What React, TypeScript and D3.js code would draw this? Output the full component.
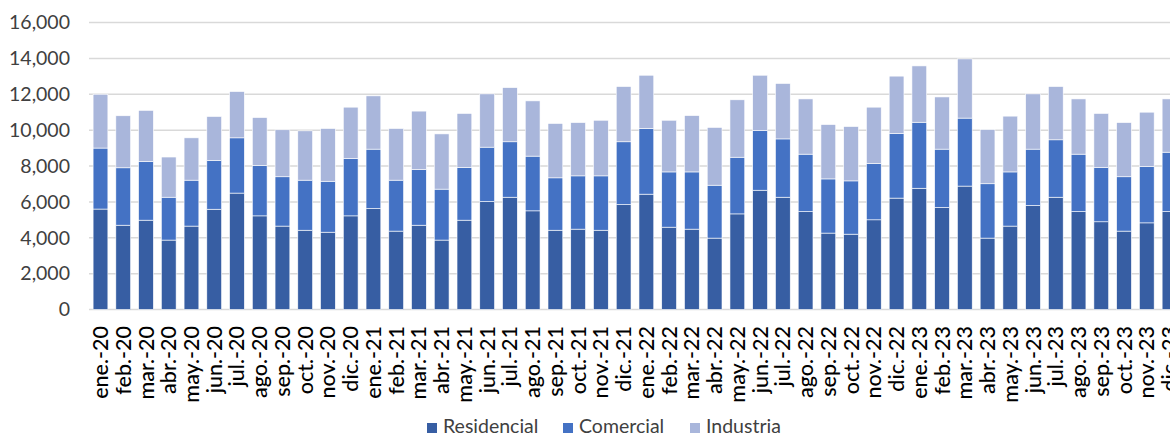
import React, { useEffect, useRef } from 'react';
import * as d3 from 'd3';

const months = [
  'ene.-20', 'feb.-20', 'mar.-20', 'abr.-20', 'may.-20', 'jun.-20', 'jul.-20', 'ago.-20', 'sep.-20', 'oct.-20', 'nov.-20', 'dic.-20',
  'ene.-21', 'feb.-21', 'mar.-21', 'abr.-21', 'may.-21', 'jun.-21', 'jul.-21', 'ago.-21', 'sep.-21', 'oct.-21', 'nov.-21', 'dic.-21',
  'ene.-22', 'feb.-22', 'mar.-22', 'abr.-22', 'may.-22', 'jun.-22', 'jul.-22', 'ago.-22', 'sep.-22', 'oct.-22', 'nov.-22', 'dic.-22',
  'ene.-23', 'feb.-23', 'mar.-23', 'abr.-23', 'may.-23', 'jun.-23', 'jul.-23', 'ago.-23', 'sep.-23', 'oct.-23', 'nov.-23', 'dic.-23',
];

const residencial = [
  5600, 4700, 4980, 3870, 4650, 5590, 6490, 5220, 4650, 4420, 4310, 5220,
  5630, 4370, 4700, 3870, 4980, 6020, 6260, 5500, 4420, 4480, 4420, 5850,
  6430, 4590, 4480, 3980, 5330, 6650, 6260, 5460, 4260, 4200, 5000, 6210,
  6760, 5690, 6880, 3980, 4650, 5800, 6260, 5460, 4890, 4370, 4830, 5460,
];

const comercial = [
  3400, 3200, 3270, 2390, 2560, 2710, 3080, 2810, 2750, 2790, 2840, 3200,
  3310, 2840, 3100, 2840, 2940, 3030, 3090, 3050, 2920, 2970, 3030, 3500,
  3660, 3080, 3190, 2950, 3160, 3330, 3250, 3200, 3020, 2970, 3140, 3600,
  3680, 3250, 3790, 3030, 3020, 3140, 3200, 3200, 3030, 3030, 3140, 3310,
];

const industria = [
  3000, 2900, 2850, 2240, 2360, 2460, 2580, 2670, 2620, 2750, 2940, 2860,
  2970, 2880, 3260, 3080, 3010, 2970, 3020, 3080, 3030, 2970, 3100, 3080,
  2970, 2880, 3140, 3220, 3200, 3080, 3090, 3080, 3030, 3030, 3140, 3200,
  3140, 2910, 3300, 3020, 3110, 3080, 2970, 3080, 3010, 3020, 3030, 2970,
];

const seriesKeys = ['Residencial', 'Comercial', 'Industria'];
const seriesColors = ['#375EA3', '#4472C4', '#A9B6DB'];
const yTicks = [0, 2000, 4000, 6000, 8000, 10000, 12000, 14000, 16000];

const W = 1170;
const H = 436;
const FONT = 'Lato, "Open Sans", sans-serif';

export default function App() {
  const svgRef = useRef<SVGSVGElement>(null);

  useEffect(() => {
    document.body.style.margin = '0';
    const svg = d3.select(svgRef.current);
    svg.selectAll('*').remove();

    const rows = months.map((m, i) => ({
      month: m,
      Residencial: residencial[i],
      Comercial: comercial[i],
      Industria: industria[i],
    }));

    const x = d3.scaleBand<string>()
      .domain(months)
      .range([89, 1181])
      .paddingInner(0.35)
      .paddingOuter(0.18);

    const y = d3.scaleLinear().domain([0, 16000]).range([309.5, 22.5]);
    const color = d3.scaleOrdinal<string, string>().domain(seriesKeys).range(seriesColors);

    // gridlines
    svg.append('g')
      .selectAll('line')
      .data(yTicks)
      .enter().append('line')
      .attr('x1', 89)
      .attr('x2', W)
      .attr('y1', d => y(d))
      .attr('y2', d => y(d))
      .attr('stroke', '#D9D9D9')
      .attr('stroke-width', 1.5);

    // y tick labels
    svg.append('g')
      .selectAll('text')
      .data(yTicks)
      .enter().append('text')
      .attr('x', 70)
      .attr('y', d => y(d))
      .attr('dy', '0.35em')
      .attr('text-anchor', 'end')
      .attr('font-family', FONT)
      .attr('font-size', 19.5)
      .attr('fill', '#404040')
      .text(d => d3.format(',')(d));

    // stacked bars
    const stacked = d3.stack<any>().keys(seriesKeys)(rows);
    svg.append('g')
      .selectAll('g')
      .data(stacked)
      .enter().append('g')
      .attr('fill', d => color(d.key))
      .selectAll('rect')
      .data(d => d)
      .enter().append('rect')
      .attr('x', d => x(d.data.month)!)
      .attr('width', x.bandwidth())
      .attr('y', d => y(d[1]))
      .attr('height', d => y(d[0]) - y(d[1]))
      .attr('stroke', '#ffffff')
      .attr('stroke-width', 0.6);

    // x labels
    svg.append('g')
      .selectAll('text')
      .data(months)
      .enter().append('text')
      .attr('transform', d => `translate(${x(d)! + x.bandwidth() / 2},326) rotate(-90)`)
      .attr('dy', '0.35em')
      .attr('text-anchor', 'end')
      .attr('font-family', FONT)
      .attr('font-size', 21.5)
      .attr('font-weight', 500)
      .attr('fill', '#000000')
      .text(d => d);

    // legend
    const legendX = [427, 563, 690];
    const legend = svg.append('g')
      .selectAll('g')
      .data(seriesKeys)
      .enter().append('g')
      .attr('transform', (d, i) => `translate(${legendX[i]},423)`);
    legend.append('rect')
      .attr('width', 10)
      .attr('height', 10)
      .attr('fill', d => color(d));
    legend.append('text')
      .attr('x', 16)
      .attr('y', 10)
      .attr('font-family', FONT)
      .attr('font-size', 19.5)
      .attr('fill', '#404040')
      .text(d => d);
  }, []);

  return (
    <div style={{ position: 'absolute', left: 0, top: 0, width: W, height: H, overflow: 'hidden', background: '#fff' }}>
      <svg ref={svgRef} width={W} height={H} style={{ display: 'block' }} />
    </div>
  );
}
